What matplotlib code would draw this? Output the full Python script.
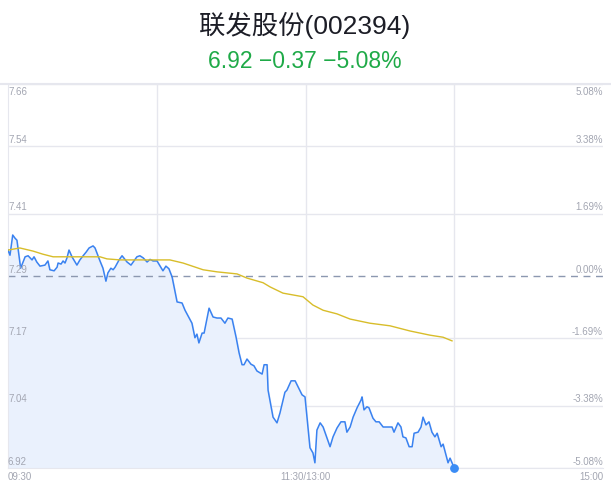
import matplotlib
matplotlib.use("Agg")
import matplotlib.pyplot as plt

plt.rcParams['font.family'] = ['Liberation Sans', 'Noto Sans CJK SC', 'DejaVu Sans']

# traced minutes since 09:30 (trading time) and prices
minutes = [0, 0.8, 1.9, 2.8, 3.6, 5.1, 5.9, 6.9, 8.1, 9.7, 10.5, 11.6, 12.9, 14.9, 16.1,
           16.9, 18.6, 19.8, 20.2, 21.4, 22.2, 23.0, 23.8, 24.6, 25.8, 27.8, 29.0, 30.3,
           31.5, 32.7, 34.3, 35.1, 35.9, 37.1, 38.3, 39.5, 40.3, 41.5, 42.4, 43.2, 44.8,
           46.0, 48.0, 49.6, 52.0, 53.2, 54.5, 56.1, 57.3, 58.5, 60.1, 62.5, 63.7, 64.9,
           66.2, 68.2, 70.2, 71.4, 74.2, 75.4, 76.2, 77.0, 78.3, 79.1, 80.3, 81.1, 82.7,
           84.3, 85.9, 87.5, 88.7, 90.4, 92.0, 93.2, 94.4, 95.2, 96.4, 98.0, 99.2, 100.4,
           102.5, 103.3, 104.5, 104.9, 106.9, 108.5, 109.7, 111.7, 112.5, 114.2, 115.8,
           118.6, 119.8, 121.8, 123.0, 123.8, 124.6, 125.9, 127.1, 129.9, 131.1, 132.7,
           134.3, 135.9, 136.7, 138.0, 139.2, 140.8, 142.4, 142.8, 143.6, 144.8, 145.6,
           147.2, 148.4, 149.7, 151.3, 152.9, 154.9, 155.7, 157.3, 158.5, 159.3, 160.5,
           161.8, 163.0, 163.8, 165.4, 166.6, 167.4, 168.6, 169.8, 171.0, 172.2, 173.1,
           174.7, 175.5, 177.5, 178.3, 180]
prices = [7.340, 7.330, 7.369, 7.363, 7.359, 7.305, 7.315, 7.327, 7.329, 7.321, 7.327,
          7.317, 7.309, 7.311, 7.319, 7.302, 7.300, 7.307, 7.315, 7.313, 7.319, 7.315,
          7.325, 7.340, 7.327, 7.311, 7.321, 7.329, 7.336, 7.344, 7.348, 7.344, 7.334,
          7.319, 7.305, 7.280, 7.296, 7.305, 7.302, 7.307, 7.321, 7.329, 7.317, 7.311,
          7.327, 7.329, 7.325, 7.317, 7.322, 7.319, 7.319, 7.300, 7.309, 7.304, 7.288,
          7.240, 7.238, 7.224, 7.199, 7.171, 7.178, 7.161, 7.180, 7.180, 7.209, 7.228,
          7.211, 7.209, 7.209, 7.199, 7.209, 7.207, 7.172, 7.142, 7.119, 7.119, 7.130,
          7.120, 7.117, 7.107, 7.101, 7.119, 7.119, 7.070, 7.018, 7.007, 7.026, 7.066,
          7.070, 7.088, 7.088, 7.061, 7.057, 6.959, 6.949, 6.930, 6.993, 7.007, 6.999,
          6.961, 6.980, 6.997, 7.009, 7.009, 6.989, 6.999, 7.018, 7.036, 7.051, 7.057,
          7.032, 7.038, 7.036, 7.016, 7.009, 7.009, 6.999, 6.999, 6.999, 6.989, 7.007,
          6.999, 6.980, 6.978, 6.961, 6.961, 6.987, 6.989, 6.999, 7.018, 7.003, 7.009,
          6.989, 6.980, 6.987, 6.961, 6.966, 6.930, 6.939, 6.920]

avg_minutes = [0, 4.8, 10.1, 14.1, 18.2, 23.8, 29.0, 37.1, 39.9, 45.2, 50.4, 60.1, 65.3,
               70.6, 78.7, 84.3, 92.4, 96.4, 102.9, 105.7, 110.9, 119.0, 123.0, 127.1,
               132.7, 138.0, 146.0, 154.1, 162.2, 170.2, 175.5, 179.1]
avg_prices = [7.340, 7.344, 7.338, 7.332, 7.327, 7.327, 7.327, 7.327, 7.323, 7.321, 7.321,
              7.321, 7.321, 7.315, 7.302, 7.298, 7.294, 7.286, 7.277, 7.269, 7.257, 7.250,
              7.234, 7.224, 7.217, 7.207, 7.199, 7.194, 7.184, 7.176, 7.172, 7.165]

prev_close = 7.29
left_ticks = [7.66, 7.54, 7.41, 7.29, 7.17, 7.04, 6.92]
right_ticks = ["5.08%", "3.38%", "1.69%", "0.00%", "-1.69%", "-3.38%", "-5.08%"]
time_labels = ["09:30", "11:30/13:00", "15:00"]

ymin, ymax = 6.92, 7.66

fig = plt.figure(figsize=(6.11, 4.92), dpi=100)
ax = fig.add_axes([8 / 611, 1 - 468 / 492, 595 / 611, 384 / 492])
ax.set_xlim(0, 240)
ax.set_ylim(ymin, ymax)

grid_c = "#e6e7ee"
for v in left_ticks:
    if v == prev_close:
        continue
    ax.axhline(v, color=grid_c, lw=1, zorder=1)
for m in [60, 120, 180]:
    ax.axvline(m, color=grid_c, lw=1, zorder=1)
ax.axhline(prev_close, color="#8c98b0", lw=1, ls=(0, (5, 4)), zorder=2)

ax.fill_between(minutes, prices, ymin, color="#eaf1fd", zorder=1.5)
ax.plot(minutes, prices, color="#3a82f0", lw=1.1, zorder=3)
ax.plot(avg_minutes, avg_prices, color="#d8bd2a", lw=1.0, zorder=3)
ax.scatter([minutes[-1]], [prices[-1]], s=28, color="#3a8cf5", zorder=4, clip_on=False)

for s in ["top", "right"]:
    ax.spines[s].set_visible(False)
ax.spines["left"].set_color(grid_c)
ax.spines["bottom"].set_color(grid_c)
ax.set_xticks([])
ax.set_yticks([])

lab_c = "#a3a6b2"
fs = 7
for i, (v, r) in enumerate(zip(left_ticks, right_ticks)):
    va = "top" if i == 0 else "bottom"
    off = -2 if i == 0 else 1
    ax.annotate(f"{v:.2f}", (0, v), xytext=(0, off), textcoords="offset points",
                ha="left", va=va, fontsize=fs, color=lab_c)
    ax.annotate(r, (240, v), xytext=(0, off), textcoords="offset points",
                ha="right", va=va, fontsize=fs, color=lab_c)

for m, t, ha in zip([0, 120, 240], time_labels, ["left", "center", "right"]):
    ax.annotate(t, (m, ymin), xytext=(0, -3), textcoords="offset points",
                ha=ha, va="top", fontsize=fs, color=lab_c)

fig.add_artist(plt.Line2D([0, 1], [1 - 83.5 / 492] * 2, color="#e6e7ee", lw=1.5))

fig.text(305 / 611, 1 - 25 / 492, "联发股份(002394)", ha="center", va="center",
         fontsize=19, color="#1c1d26")
fig.text(305 / 611, 1 - 61 / 492, "6.92 \u22120.37 \u22125.08%", ha="center",
         va="center", fontsize=16.5, color="#1faa48")

fig.savefig("out.png", dpi=100)
